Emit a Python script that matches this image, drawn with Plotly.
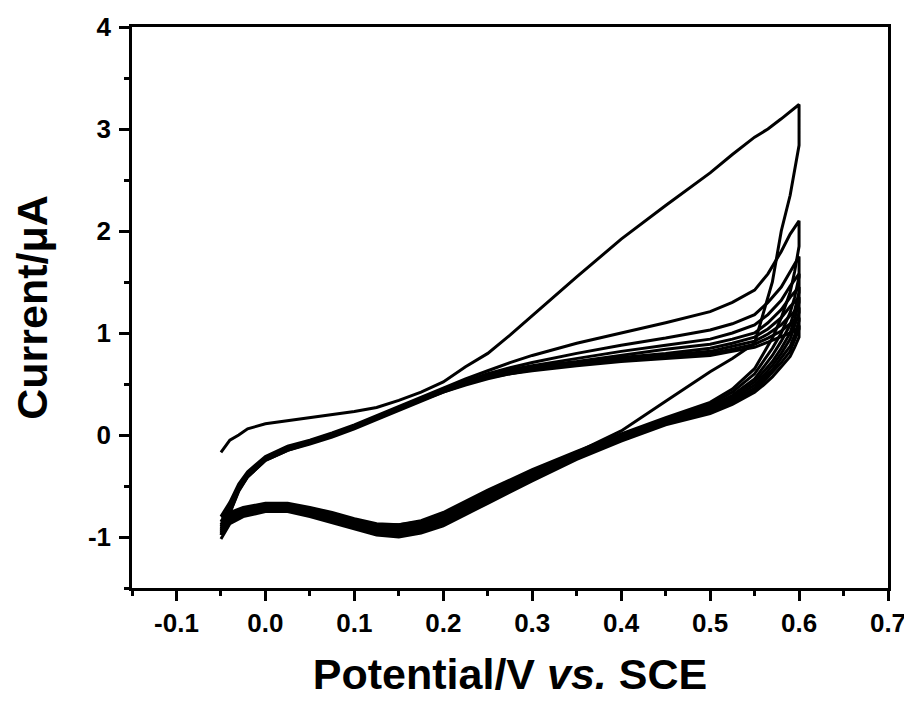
import plotly.graph_objects as go

# Potential grids (V vs. SCE)
E_FWD = [-0.05, -0.04, -0.03, -0.02, 0.0, 0.025, 0.05, 0.075, 0.1, 0.125, 0.15, 0.175, 0.2, 0.225,
         0.25, 0.275, 0.3, 0.35, 0.4, 0.45, 0.5, 0.525, 0.55, 0.565, 0.58, 0.59, 0.6]
E_REV = [0.6, 0.595, 0.59, 0.58, 0.57, 0.56, 0.55, 0.525, 0.5, 0.45, 0.4, 0.35, 0.3, 0.25, 0.225,
         0.2, 0.175, 0.15, 0.125, 0.1, 0.075, 0.05, 0.025, 0.0, -0.025, -0.04, -0.05]

# Current (uA), forward sweeps per cycle
F1 = [-0.17, -0.05, 0.0, 0.06, 0.11, 0.14, 0.165, 0.195, 0.23, 0.27, 0.34, 0.42, 0.52, 0.67, 0.80, 0.98,
      1.17, 1.55, 1.92, 2.25, 2.57, 2.75, 2.92, 3.0, 3.1, 3.17, 3.24]
F2 = [-0.80, -0.66, -0.48, -0.36, -0.21, -0.11, -0.05, 0.02, 0.10, 0.19, 0.28, 0.37, 0.46, 0.55, 0.63,
      0.71, 0.78, 0.90, 1.0, 1.1, 1.21, 1.3, 1.42, 1.58, 1.8, 1.97, 2.1]
F3 = [-0.85, -0.70, -0.50, -0.38, -0.22, -0.12, -0.06, 0.01, 0.09, 0.18, 0.27, 0.36, 0.45, 0.53, 0.60,
      0.66, 0.71, 0.80, 0.88, 0.95, 1.03, 1.09, 1.18, 1.3, 1.45, 1.6, 1.75]
F4 = [-0.88, -0.72, -0.51, -0.39, -0.23, -0.13, -0.06, 0.01, 0.09, 0.18, 0.27, 0.36, 0.44, 0.52, 0.59,
      0.64, 0.68, 0.75, 0.82, 0.88, 0.94, 1.0, 1.08, 1.18, 1.32, 1.46, 1.58]
F5 = [-0.90, -0.73, -0.52, -0.39, -0.23, -0.13, -0.07, 0.0, 0.08, 0.17, 0.26, 0.35, 0.44, 0.51, 0.58,
      0.63, 0.67, 0.72, 0.78, 0.84, 0.89, 0.94, 1.0, 1.1, 1.23, 1.35, 1.45]
F6 = [-0.92, -0.74, -0.52, -0.40, -0.24, -0.14, -0.07, 0.0, 0.08, 0.17, 0.26, 0.35, 0.43, 0.51, 0.57,
      0.62, 0.66, 0.71, 0.76, 0.80, 0.85, 0.9, 0.96, 1.04, 1.15, 1.26, 1.35]
F7 = [-0.94, -0.75, -0.53, -0.40, -0.24, -0.14, -0.08, -0.01, 0.07, 0.16, 0.25, 0.34, 0.43, 0.50, 0.56,
      0.61, 0.65, 0.70, 0.74, 0.78, 0.82, 0.87, 0.92, 0.99, 1.08, 1.17, 1.25]
F8 = [-0.96, -0.76, -0.54, -0.41, -0.25, -0.15, -0.08, -0.01, 0.07, 0.16, 0.25, 0.34, 0.42, 0.50, 0.56,
      0.60, 0.64, 0.69, 0.73, 0.76, 0.80, 0.84, 0.89, 0.95, 1.02, 1.09, 1.15]
F9 = [-0.98, -0.77, -0.55, -0.41, -0.25, -0.15, -0.09, -0.02, 0.06, 0.15, 0.24, 0.33, 0.42, 0.49, 0.55,
      0.60, 0.63, 0.68, 0.72, 0.75, 0.78, 0.82, 0.86, 0.91, 0.96, 1.0, 1.05]

# Current (uA), reverse sweeps per cycle
R1 = [2.84, 2.6, 2.35, 2.0, 1.5, 1.2, 0.9, 0.75, 0.62, 0.33, 0.04, -0.17, -0.36, -0.56, -0.67, -0.77,
      -0.85, -0.88, -0.87, -0.82, -0.76, -0.71, -0.67, -0.67, -0.71, -0.76, -0.80]
R2 = [1.85, 1.6, 1.4, 1.15, 0.95, 0.8, 0.65, 0.45, 0.32, 0.17, 0.01, -0.16, -0.34, -0.54, -0.65, -0.76,
      -0.84, -0.88, -0.88, -0.84, -0.78, -0.73, -0.69, -0.69, -0.73, -0.78, -0.85]
R3 = [1.55, 1.35, 1.2, 1.0, 0.85, 0.72, 0.6, 0.42, 0.3, 0.16, 0.0, -0.17, -0.35, -0.56, -0.67, -0.78,
      -0.86, -0.9, -0.9, -0.86, -0.8, -0.74, -0.7, -0.7, -0.74, -0.8, -0.88]
R4 = [1.4, 1.22, 1.08, 0.92, 0.78, 0.66, 0.55, 0.39, 0.28, 0.15, -0.01, -0.18, -0.37, -0.58, -0.69, -0.8,
      -0.88, -0.92, -0.92, -0.87, -0.81, -0.75, -0.7, -0.71, -0.75, -0.82, -0.9]
R5 = [1.3, 1.14, 1.0, 0.85, 0.72, 0.62, 0.52, 0.37, 0.27, 0.14, -0.02, -0.2, -0.39, -0.6, -0.71, -0.82,
      -0.9, -0.94, -0.93, -0.88, -0.82, -0.76, -0.71, -0.72, -0.76, -0.83, -0.92]
R6 = [1.2, 1.06, 0.94, 0.8, 0.68, 0.58, 0.49, 0.35, 0.25, 0.13, -0.03, -0.21, -0.41, -0.62, -0.73, -0.84,
      -0.92, -0.96, -0.95, -0.89, -0.83, -0.77, -0.72, -0.73, -0.77, -0.84, -0.94]
R7 = [1.12, 0.98, 0.87, 0.75, 0.64, 0.55, 0.46, 0.33, 0.24, 0.12, -0.04, -0.22, -0.42, -0.64, -0.75, -0.86,
      -0.94, -0.98, -0.96, -0.9, -0.84, -0.78, -0.73, -0.73, -0.78, -0.85, -0.96]
R8 = [1.04, 0.92, 0.82, 0.71, 0.61, 0.52, 0.44, 0.31, 0.22, 0.11, -0.05, -0.23, -0.44, -0.66, -0.77, -0.88,
      -0.95, -0.99, -0.97, -0.91, -0.85, -0.79, -0.74, -0.74, -0.79, -0.86, -0.98]
R9 = [0.96, 0.86, 0.77, 0.67, 0.57, 0.49, 0.42, 0.3, 0.21, 0.1, -0.06, -0.24, -0.45, -0.67, -0.78, -0.89,
      -0.96, -1.0, -0.98, -0.92, -0.86, -0.8, -0.75, -0.75, -0.8, -0.87, -1.02]

FORWARD = [F1, F2, F3, F4, F5, F6, F7, F8, F9]
REVERSE = [R1, R2, R3, R4, R5, R6, R7, R8, R9]

X_TICKS = [-0.1, 0.0, 0.1, 0.2, 0.3, 0.4, 0.5, 0.6, 0.7]
X_TICK_LABELS = ["-0.1", "0.0", "0.1", "0.2", "0.3", "0.4", "0.5", "0.6", "0.7"]
X_MINOR = [-0.15, -0.05, 0.05, 0.15, 0.25, 0.35, 0.45, 0.55, 0.65]
Y_TICKS = [-1, 0, 1, 2, 3, 4]
Y_TICK_LABELS = ["-1", "0", "1", "2", "3", "4"]
Y_MINOR = [-1.5, -0.5, 0.5, 1.5, 2.5, 3.5]

FONT = "Liberation Sans, Arial, sans-serif"

fig = go.Figure()
for fwd, rev in zip(FORWARD, REVERSE):
    fig.add_trace(go.Scatter(
        x=E_FWD + E_REV, y=fwd + rev, mode="lines",
        line=dict(color="black", width=3), showlegend=False, hoverinfo="skip"))

axis_common = dict(
    showgrid=False, zeroline=False, showline=True, linecolor="black", linewidth=2.5,
    mirror=True, ticks="outside", ticklen=10, tickwidth=2.5, tickcolor="black",
    automargin=False,
    tickfont=dict(family=FONT, size=26, color="black", weight="bold"),
)

# page body has an 8px margin, so the figure is 8px smaller on each axis
fig.update_layout(
    width=904, height=694,
    margin=dict(l=124, r=24, t=19, b=114),
    paper_bgcolor="white", plot_bgcolor="white",
    xaxis=dict(range=[-0.15, 0.7], tickmode="array", tickvals=X_TICKS, ticktext=X_TICK_LABELS,
               minor=dict(tickmode="array", tickvals=X_MINOR, ticks="outside", ticklen=5,
                          tickwidth=2.5, tickcolor="black"),
               title=dict(text="Potential/V <i>vs.</i> SCE", standoff=22,
                          font=dict(family=FONT, size=43, color="black", weight="bold")),
               **axis_common),
    yaxis=dict(range=[-1.5, 4], tickmode="array", tickvals=Y_TICKS, ticktext=Y_TICK_LABELS,
               ticklabelstandoff=3,
               minor=dict(tickmode="array", tickvals=Y_MINOR, ticks="outside", ticklen=5,
                          tickwidth=2.5, tickcolor="black"),
               title=dict(text="Current/μA", standoff=28,
                          font=dict(family=FONT, size=43, color="black", weight="bold")),
               **axis_common),
)

fig.write_html("out.html")
